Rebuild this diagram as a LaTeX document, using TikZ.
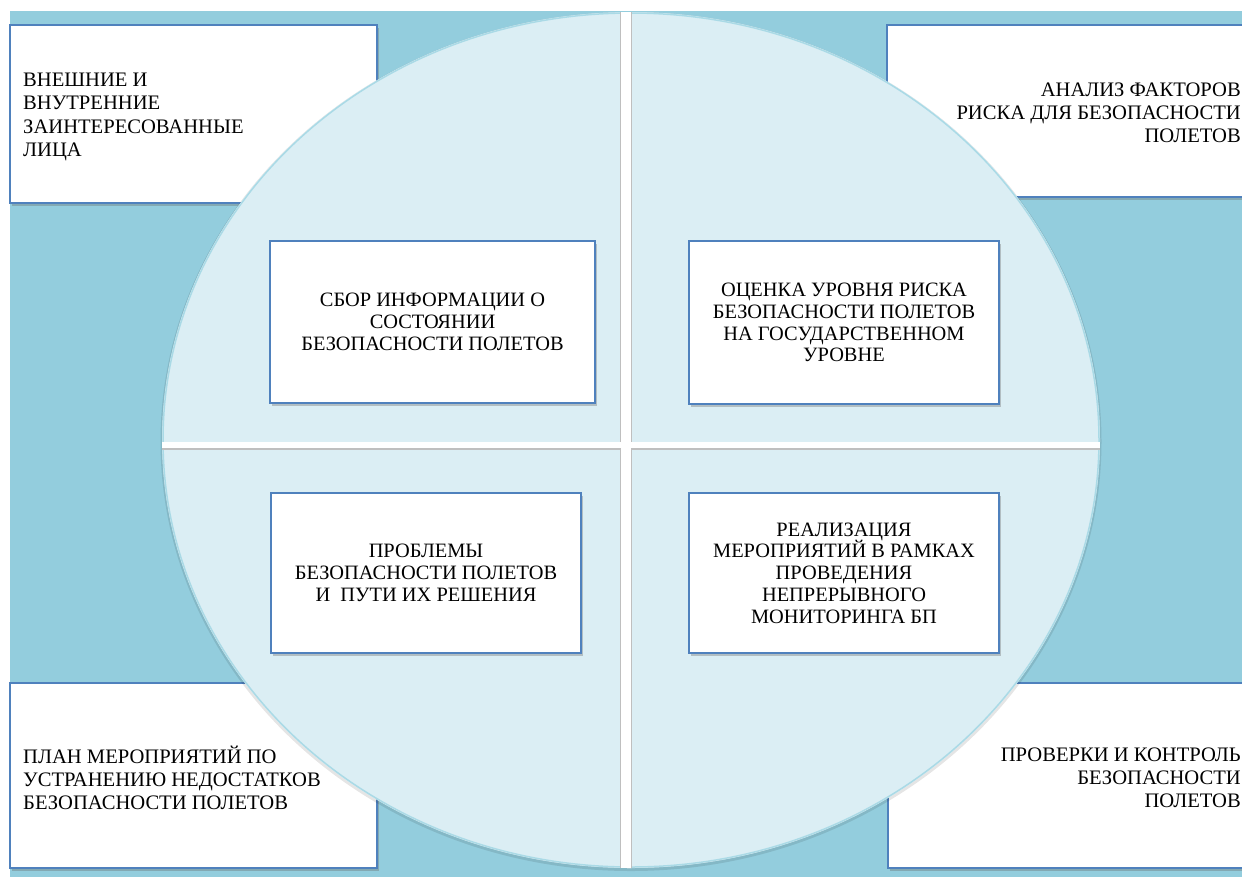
\documentclass[tikz,border=0pt]{standalone}
\usepackage{fontspec}
\setmainfont{Liberation Serif}
\usetikzlibrary{shadows}
\definecolor{bgblue}{HTML}{93CDDD}
\definecolor{circfill}{HTML}{DBEEF4}
\definecolor{circedge}{HTML}{AADAE6}
\definecolor{boxedge}{HTML}{4F81BD}
\begin{document}
\begin{tikzpicture}[x=1pt,y=-1pt,
  box/.style={draw=boxedge, line width=1.6pt, fill=white, inner sep=0pt,
    drop shadow={shadow xshift=1.5pt, shadow yshift=-2.5pt, opacity=0.35, fill=black!60}},
  inner/.style={box, align=center, font=\fontsize{20.4}{21.8}\selectfont},
  ctxt/.style={inner sep=0pt, font=\fontsize{20.6}{23.2}\selectfont},
]
\useasboundingbox (0,0) rectangle (1242,879);
\clip (0,0) rectangle (1242,879);
% background
\fill[bgblue] (10,11) rectangle (1260,877);
% corner boxes
\node[box, minimum width=367pt, minimum height=178pt] (tlbox) at (193.5,114) {};
\node[box, minimum width=375pt, minimum height=172pt] (trbox) at (1074.5,111) {};
\node[box, minimum width=367pt, minimum height=185pt] (blbox) at (193.5,775.5) {};
\node[box, minimum width=374pt, minimum height=185pt] (brbox) at (1075,775.5) {};
\node[ctxt, anchor=west, align=left] (tltxt) at (23,117) {ВНЕШНИЕ И\\ВНУТРЕННИЕ\\ЗАИНТЕРЕСОВАННЫЕ\\ЛИЦА};
\node[ctxt, anchor=east, align=right] (trtxt) at (1241,113) {АНАЛИЗ ФАКТОРОВ\\РИСКА ДЛЯ БЕЗОПАСНОСТИ\\ПОЛЕТОВ};
\node[ctxt, anchor=west, align=left] (bltxt) at (23,778) {ПЛАН МЕРОПРИЯТИЙ ПО\\УСТРАНЕНИЮ НЕДОСТАТКОВ\\БЕЗОПАСНОСТИ ПОЛЕТОВ};
\node[ctxt, anchor=east, align=right] (brtxt) at (1241,778) {ПРОВЕРКИ И КОНТРОЛЬ\\БЕЗОПАСНОСТИ\\ПОЛЕТОВ};
% ellipse
\fill[black, opacity=0.10] (631,441.5) ellipse [x radius=470.5, y radius=429.5];
\fill[circfill] (631,440) ellipse [x radius=469, y radius=428];
\draw[circedge, line width=1.5pt] (631,440) ellipse [x radius=468, y radius=427];
\begin{scope}
  \clip (631,440) ellipse [x radius=469, y radius=428];
  \draw[black!25, line width=12pt] (625.5,0) -- (625.5,879);
  \draw[black!25, line width=6pt] (150,446.5) -- (1110,446.5);
  \draw[white, line width=6pt] (150,445) -- (1110,445);
  \draw[white, line width=10pt] (625.5,0) -- (625.5,879);
\end{scope}
% inner boxes
\node[inner, minimum width=325pt, minimum height=162pt] (sbor) at (432.5,322) {СБОР ИНФОРМАЦИИ О\\СОСТОЯНИИ\\БЕЗОПАСНОСТИ ПОЛЕТОВ};
\node[inner, minimum width=310pt, minimum height=163pt] (ocenka) at (844,322.5) {ОЦЕНКА УРОВНЯ РИСКА\\БЕЗОПАСНОСТИ ПОЛЕТОВ\\НА ГОСУДАРСТВЕННОМ\\УРОВНЕ};
\node[inner, minimum width=310pt, minimum height=160pt] (probl) at (426,573) {ПРОБЛЕМЫ\\БЕЗОПАСНОСТИ ПОЛЕТОВ\\И\ \ ПУТИ ИХ РЕШЕНИЯ};
\node[inner, minimum width=310pt, minimum height=160pt] (real) at (844,573) {РЕАЛИЗАЦИЯ\\МЕРОПРИЯТИЙ В РАМКАХ\\ПРОВЕДЕНИЯ\\НЕПРЕРЫВНОГО\\МОНИТОРИНГА БП};
\end{tikzpicture}
\end{document}
